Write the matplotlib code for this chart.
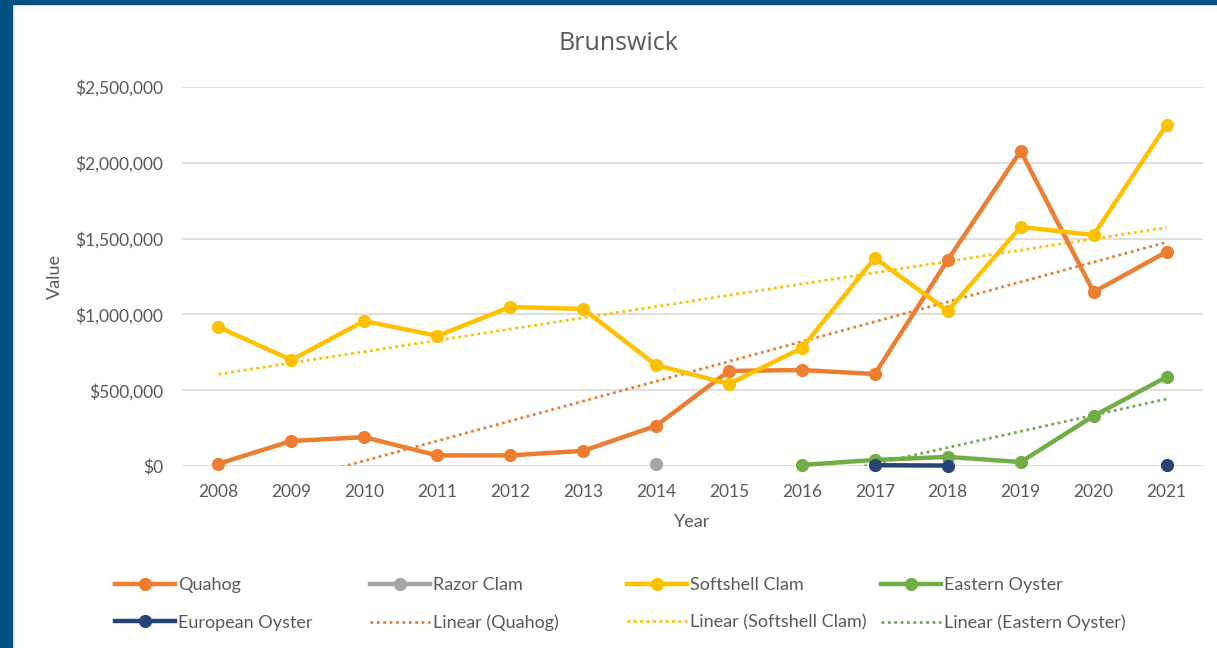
import matplotlib
matplotlib.use("Agg")
from matplotlib import pyplot as plt
from matplotlib.lines import Line2D
from matplotlib.ticker import FuncFormatter
import numpy as np

years = list(range(2008, 2022))

# values in dollars (None = no data)
quahog = [15000, 165000, 190000, 70000, 70000, 100000, 265000, 627000,
          633000, 607000, 1359000, 2078000, 1148000, 1412000]
razor_clam = [None] * 6 + [10000] + [None] * 7
softshell = [917000, 699000, 957000, 858000, 1049000, 1036000, 666000, 541000,
             778000, 1372000, 1023000, 1577000, 1524000, 2250000]
eastern_oyster = [None] * 8 + [7000, 40000, 60000, 26000, 330000, 587000]
european_oyster = [None] * 9 + [5000, 3000, None, None, 5000]

c_quahog = "#ED7D31"
c_razor = "#A5A5A5"
c_soft = "#FFC000"
c_east = "#70AD47"
c_euro = "#264478"
txt = "#595959"

plt.rcParams["font.family"] = ["Lato", "DejaVu Sans"]

fig = plt.figure(figsize=(12.17, 6.48), dpi=100)
fig.patch.set_facecolor("white")
# blue frame on left and top
fig.add_artist(plt.Rectangle((0, 0), 12 / 1217, 1, transform=fig.transFigure,
                             color="#03517E", zorder=10))
fig.add_artist(plt.Rectangle((0, 1 - 4 / 648), 1, 4 / 648, transform=fig.transFigure,
                             color="#03517E", zorder=10))

ax = fig.add_axes([182 / 1217, 1 - 466 / 648, (1203 - 182) / 1217, (466 - 87) / 648])


def arr(v):
    return np.array([np.nan if x is None else x for x in v], dtype=float)


x = np.array(years, dtype=float)
series = [
    ("Quahog", quahog, c_quahog),
    ("Razor Clam", razor_clam, c_razor),
    ("Softshell Clam", softshell, c_soft),
    ("Eastern Oyster", eastern_oyster, c_east),
    ("European Oyster", european_oyster, c_euro),
]

lw = 3.2
ms = 8.5
handles = {}
for name, vals, col in series:
    y = arr(vals)
    ax.plot(x, y, "-o", color=col, lw=lw, ms=ms, clip_on=False,
            zorder=3, solid_capstyle="round")
    handles[name] = Line2D([], [], color=col, lw=lw, marker="o", ms=ms)

# linear trendlines
dots = (0, (1, 1.3))
for name, vals, col in [("Quahog", quahog, c_quahog),
                        ("Softshell Clam", softshell, c_soft),
                        ("Eastern Oyster", eastern_oyster, c_east)]:
    y = arr(vals)
    m = ~np.isnan(y)
    k, b = np.polyfit(x[m], y[m], 1)
    xs = np.array([x[m][0], x[m][-1]])
    ax.plot(xs, k * xs + b, linestyle=dots, color=col, lw=2.0, zorder=2)
    handles["Linear (%s)" % name] = Line2D([], [], color=col, lw=2.0, linestyle=dots)

ax.set_xlim(2007.5, 2021.5)
ax.set_ylim(0, 2500000)
ax.set_yticks(np.arange(0, 2500001, 500000))
ax.set_xticks(years)
ax.yaxis.set_major_formatter(FuncFormatter(lambda v, p: "${:,.0f}".format(v)))
ax.grid(axis="y", color="#D9D9D9", lw=1.2)
ax.set_axisbelow(True)
for s in ax.spines.values():
    s.set_visible(False)
ax.tick_params(length=0, labelsize=12.5, colors=txt)
ax.tick_params(axis="x", pad=13)
ax.tick_params(axis="y", pad=13.5)

ax.set_xlabel("Year", fontsize=13, color=txt, labelpad=10)
ax.set_ylabel("Value", fontsize=13, color=txt, labelpad=9)
fig.text(618.5 / 1217, 1 - 43 / 648, "Brunswick", fontsize=18, color=txt,
         ha="center", va="center", family=["Open Sans", "DejaVu Sans"])

cols = [
    (115, ["Quahog", "European Oyster"]),
    (370, ["Razor Clam", "Linear (Quahog)"]),
    (627, ["Softshell Clam", "Linear (Softshell Clam)"]),
    (881, ["Eastern Oyster", "Linear (Eastern Oyster)"]),
]
for xpos, names in cols:
    fig.legend([handles[n] for n in names], names,
               loc="upper left", bbox_to_anchor=(xpos / 1217, 1 - 577 / 648),
               frameon=False, fontsize=13, handlelength=3.3,
               handletextpad=0.2, borderpad=0, borderaxespad=0,
               labelspacing=1.2, labelcolor=txt)

fig.savefig("out.png", dpi=100)
